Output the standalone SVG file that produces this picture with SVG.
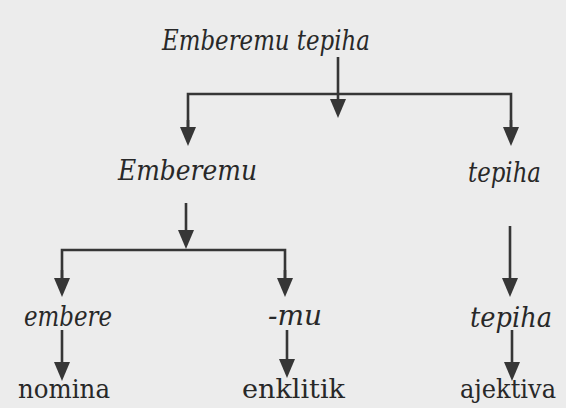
<svg xmlns="http://www.w3.org/2000/svg" width="566" height="408" viewBox="0 0 566 408">
  <style>
    .it { font-family: "DejaVu Serif", "Liberation Serif", serif; font-style: italic; font-size: 28px; fill: #282828; }
    .up { font-family: "DejaVu Serif", "Liberation Serif", serif; font-size: 26px; fill: #282828; }
    .ln { stroke: #363636; stroke-width: 2.6; fill: none; }
  </style>
  <defs>
    <marker id="ah" markerUnits="userSpaceOnUse" viewBox="0 0 19 16" refX="11" refY="8" markerWidth="19" markerHeight="16" orient="auto">
      <path d="M0,0 L19,8 L0,16 z" fill="#363636"/>
    </marker>
  </defs>
  <rect x="0" y="0" width="566" height="408" fill="#ececec"/>

  <g id="connectors">
    <line class="ln" x1="338" y1="57" x2="338" y2="110" marker-end="url(#ah)"/>
    <polyline class="ln" points="188,138 188,94 511,94 511,138"/>
    <line class="ln" x1="188" y1="120" x2="188" y2="138" marker-end="url(#ah)"/>
    <line class="ln" x1="511" y1="120" x2="511" y2="138" marker-end="url(#ah)"/>

    <line class="ln" x1="186" y1="203" x2="186" y2="241" marker-end="url(#ah)"/>
    <polyline class="ln" points="62,289 62,250 285,250 285,289"/>
    <line class="ln" x1="62" y1="270" x2="62" y2="289" marker-end="url(#ah)"/>
    <line class="ln" x1="285" y1="270" x2="285" y2="289" marker-end="url(#ah)"/>
    <line class="ln" x1="510" y1="226" x2="510" y2="289" marker-end="url(#ah)"/>

    <line class="ln" x1="62" y1="330" x2="62" y2="373" marker-end="url(#ah)"/>
    <line class="ln" x1="287" y1="330" x2="287" y2="370" marker-end="url(#ah)"/>
    <line class="ln" x1="512" y1="330" x2="512" y2="373" marker-end="url(#ah)"/>
  </g>

  <g id="n-root"><text class="it" x="162" y="50" textLength="208" lengthAdjust="spacingAndGlyphs">Emberemu tepiha</text></g>
  <g id="n-emberemu"><text class="it" x="118" y="180" textLength="139" lengthAdjust="spacingAndGlyphs">Emberemu</text></g>
  <g id="n-tepiha1"><text class="it" x="468" y="182" textLength="73" lengthAdjust="spacingAndGlyphs">tepiha</text></g>
  <g id="n-embere"><text class="it" x="24" y="326" textLength="88" lengthAdjust="spacingAndGlyphs">embere</text></g>
  <g id="n-mu"><text class="it" x="268" y="325">-mu</text></g>
  <g id="n-tepiha2"><text class="it" x="470" y="327" textLength="82" lengthAdjust="spacingAndGlyphs">tepiha</text></g>
  <g id="n-nomina"><text class="up" x="18" y="398" textLength="92" lengthAdjust="spacingAndGlyphs">nomina</text></g>
  <g id="n-enklitik"><text class="up" x="242" y="398" textLength="103" lengthAdjust="spacingAndGlyphs">enklitik</text></g>
  <g id="n-ajektiva"><text class="up" x="460" y="398" textLength="96" lengthAdjust="spacingAndGlyphs">ajektiva</text></g>
</svg>
